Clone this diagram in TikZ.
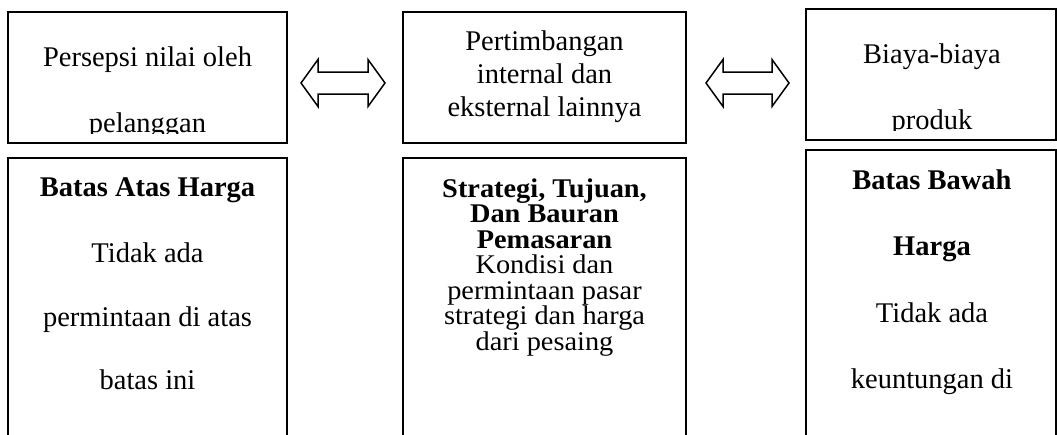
\documentclass[tikz,border=0pt]{standalone}
\usepackage{fontspec}
\setmainfont{Liberation Serif}
\newfontfamily\narrowserif[FakeStretch=1.05]{Liberation Serif}
\usepackage{tikz}

\begin{document}
\begin{tikzpicture}[x=1pt, y=-1pt,
  box/.style={draw=black, line width=1.8pt},
  arrowline/.style={draw=black, line width=1.5pt, line join=miter},
  txt/.style={anchor=base, inner sep=0pt, font=\fontsize{28.5}{34}\selectfont},
  btxt/.style={anchor=base, inner sep=0pt, font=\fontsize{28.5}{34}\selectfont\bfseries},
  mtxt/.style={anchor=base, inner sep=0pt, font=\narrowserif\fontsize{27}{26}\selectfont},
  mbtxt/.style={anchor=base, inner sep=0pt, font=\narrowserif\fontsize{27}{26}\selectfont\bfseries}]

 \useasboundingbox (0,0) rectangle (1057,434);
 \clip (0,0) rectangle (1057,434);

 % boxes top row
 \draw[box] (8,12)  rectangle (287,143);
 \draw[box] (403,12) rectangle (686,143);
 \draw[box] (806,9)  rectangle (1056,140);

 % boxes bottom row (cut by the page)
 \draw[box] (8,158)   rectangle (287,450);
 \draw[box] (403,158) rectangle (686,450);
 \draw[box] (806,150) rectangle (1056,450);

 % arrows
 \draw[arrowline] (301,83) -- (318,59.5) -- (318,72) -- (368,72) -- (368,59.5) -- (385,83)
                  -- (368,106.5) -- (368,94) -- (318,94) -- (318,106.5) -- cycle;
 \draw[arrowline] (706,83) -- (723,59.5) -- (723,72) -- (772,72) -- (772,59.5) -- (789,83)
                  -- (772,106.5) -- (772,94) -- (723,94) -- (723,106.5) -- cycle;

 % text top row
 \node[txt] (nilai1) at (147.5,66) {Persepsi nilai oleh};
 \begin{scope}
  \clip (8,12) rectangle (287,133.3);
  \node[txt] (nilai2) at (147.5,132) {pelanggan};
 \end{scope}

 \node[txt] (timbang1) at (544.5,50)  {Pertimbangan};
 \node[txt] (timbang2) at (544.5,83)  {internal dan};
 \node[txt] (timbang3) at (544.5,116) {eksternal lainnya};

 \node[txt] (biaya1) at (932,63) {Biaya-biaya};
 \begin{scope}
  \clip (806,9) rectangle (1056,130.3);
  \node[txt] (biaya2) at (932,129.5) {produk};
 \end{scope}

 % text bottom row
 \node[btxt] (atas1) at (147.5,196) {Batas Atas Harga};
 \node[txt]  (atas2) at (147.5,262) {Tidak ada};
 \node[txt]  (atas3) at (147.5,326) {permintaan di atas};
 \node[txt]  (atas4) at (147.5,389) {batas ini};

 \node[mbtxt] (strategi1) at (544.5,197)   {Strategi, Tujuan,};
 \node[mbtxt] (strategi2) at (544.5,222.5) {Dan Bauran};
 \node[mbtxt] (strategi3) at (544.5,248)   {Pemasaran};
 \node[mtxt]  (strategi4) at (544.5,273.5) {Kondisi dan};
 \node[mtxt]  (strategi5) at (544.5,299)   {permintaan pasar};
 \node[mtxt]  (strategi6) at (544.5,324.5) {strategi dan harga};
 \node[mtxt]  (strategi7) at (544.5,350)   {dari pesaing};

 \node[btxt] (bawah1) at (932,189) {Batas Bawah};
 \node[btxt] (bawah2) at (932,255) {Harga};
 \node[txt]  (bawah3) at (932,322) {Tidak ada};
 \node[txt]  (bawah4) at (932,388) {keuntungan di};

\end{tikzpicture}
\end{document}
